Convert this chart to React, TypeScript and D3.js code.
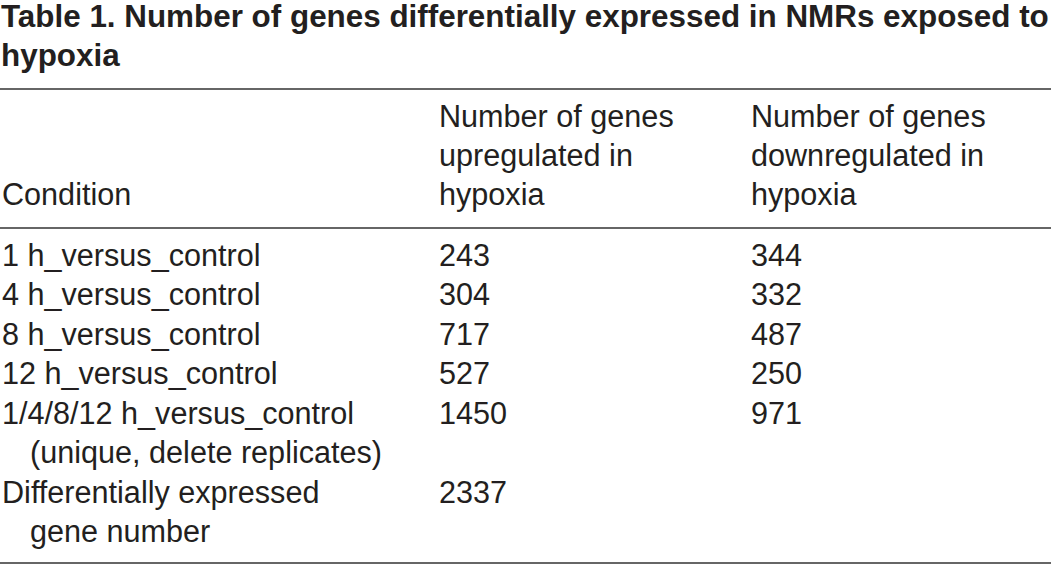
import React from "react";
import * as d3 from "d3";

const titleLines = [
  "Table 1. Number of genes differentially expressed in NMRs exposed to",
  "hypoxia",
];
const headerCondition = ["Condition"];
const headerUp = ["Number of genes", "upregulated in", "hypoxia"];
const headerDown = ["Number of genes", "downregulated in", "hypoxia"];
const conditions = [
  ["1 h_versus_control"],
  ["4 h_versus_control"],
  ["8 h_versus_control"],
  ["12 h_versus_control"],
  ["1/4/8/12 h_versus_control", "(unique, delete replicates)"],
  ["Differentially expressed", "gene number"],
];
const upregulated = ["243", "304", "717", "527", "1450", "2337"];
const downregulated = ["344", "332", "487", "250", "971", ""];

export default function App() {
  const W = 1051;
  const H = 565;
  const lineH = 39.5;
  const firstRow = 265.5;
  const fs = 30.6;
  const color = "#231f20";
  const font = "'Liberation Sans', Arial, Helvetica, sans-serif";

  const starts: number[] = [];
  let acc = 0;
  conditions.forEach((c) => {
    starts.push(acc);
    acc += c.length;
  });
  const y = d3.scaleLinear().domain([0, 1]).range([firstRow, firstRow + lineH]);
  const yHead = d3.scaleLinear().domain([0, 1]).range([127, 127 + 39]);
  const x = d3
    .scaleOrdinal<string, number>()
    .domain(["cond", "up", "down"])
    .range([2, 439, 751]);
  const indent = 28;

  return (
    <svg
      width={W}
      height={H}
      style={{ position: "absolute", left: 0, top: 0, background: "#fff" }}
      fontFamily={font}
      fill={color}
    >
      {titleLines.map((t, i) => (
        <text key={i} x={1} y={27 + i * 38.5} fontSize={31.4} fontWeight="bold">
          {t}
        </text>
      ))}
      <line x1={0} x2={W} y1={89} y2={89} stroke="#333" strokeWidth={1.5} />
      {headerCondition.map((t, i) => (
        <text key={"c" + i} x={x("cond")} y={yHead(2)} fontSize={fs}>
          {t}
        </text>
      ))}
      {headerUp.map((t, i) => (
        <text key={"u" + i} x={x("up")} y={yHead(i)} fontSize={fs}>
          {t}
        </text>
      ))}
      {headerDown.map((t, i) => (
        <text key={"d" + i} x={x("down")} y={yHead(i)} fontSize={fs}>
          {t}
        </text>
      ))}
      <line x1={0} x2={W} y1={228} y2={228} stroke="#333" strokeWidth={1.5} />
      {conditions.map((c, r) => (
        <g key={r}>
          {c.map((t, j) => (
            <text
              key={j}
              x={x("cond") + (j > 0 ? indent : 0)}
              y={y(starts[r] + j)}
              fontSize={fs}
            >
              {t}
            </text>
          ))}
          <text x={x("up")} y={y(starts[r])} fontSize={fs}>
            {upregulated[r]}
          </text>
          <text x={x("down")} y={y(starts[r])} fontSize={fs}>
            {downregulated[r]}
          </text>
        </g>
      ))}
      <line x1={0} x2={W} y1={563} y2={563} stroke="#333" strokeWidth={1.5} />
    </svg>
  );
}
